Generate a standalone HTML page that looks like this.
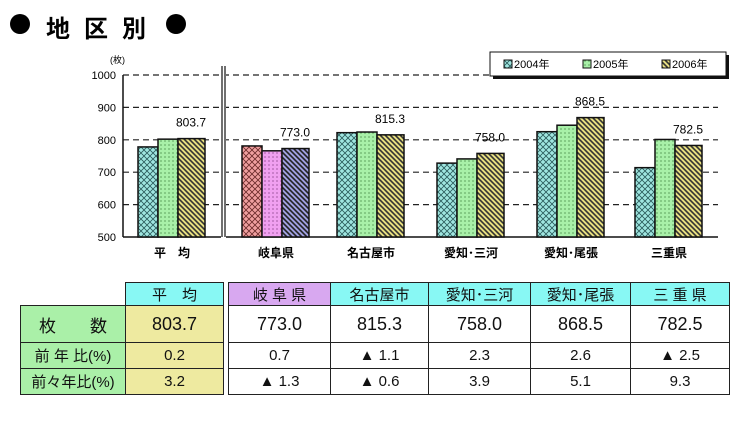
<!DOCTYPE html>
<html><head><meta charset="utf-8"><style>
body{margin:0;background:#fff;width:740px;height:422px;position:relative;overflow:hidden;font-family:"Liberation Sans","Noto Sans CJK JP",sans-serif}
.c{position:absolute;box-sizing:border-box;display:flex;align-items:center;justify-content:center;border:1px solid #222;font-size:16px;color:#111}
</style></head><body>
<svg width="740" height="422" style="position:absolute;left:0;top:0">
<defs>
<pattern id="p04" width="6" height="6" patternUnits="userSpaceOnUse"><rect width="6" height="6" fill="#9fe6e0"/><path d="M0 0L6 6M6 0L0 6" stroke="#2a5a5a" stroke-width="0.8"/></pattern>
<pattern id="p05" width="4" height="4" patternUnits="userSpaceOnUse"><rect width="4" height="4" fill="#a8f0a8"/><circle cx="1" cy="1" r="0.6" fill="#2a6a2a"/></pattern>
<pattern id="p06" width="5" height="5" patternUnits="userSpaceOnUse"><rect width="5" height="5" fill="#e8e080"/><path d="M0 0L5 5M-1 4L1 6M4 -1L6 1" stroke="#333" stroke-width="1.6"/></pattern>
<pattern id="g04" width="6" height="6" patternUnits="userSpaceOnUse"><rect width="6" height="6" fill="#f0a0a0"/><path d="M0 0L6 6M6 0L0 6" stroke="#6a2a2a" stroke-width="0.8"/></pattern>
<pattern id="g05" width="4" height="4" patternUnits="userSpaceOnUse"><rect width="4" height="4" fill="#f0a0f0"/><circle cx="1" cy="1" r="0.6" fill="#6a2a6a"/></pattern>
<pattern id="g06" width="5" height="5" patternUnits="userSpaceOnUse"><rect width="5" height="5" fill="#a0a0e0"/><path d="M0 0L5 5M-1 4L1 6M4 -1L6 1" stroke="#222" stroke-width="1.6"/></pattern>
</defs>
<circle cx="20" cy="24" r="10" fill="#000"/>
<circle cx="176" cy="24" r="10" fill="#000"/>
<g id="plot"></g>
</svg>
<div style="position:absolute;left:46px;top:9px;font-size:24px;font-weight:bold;letter-spacing:14px">地区別</div>
<div id="tbl"></div>
<script>
const categories=["平　均","岐阜県","名古屋市","愛知･三河","愛知･尾張","三重県"];
const series2004=[778,781,822,728,825,714];
const series2005=[802,766,824,741,845,801];
const series2006=[803.7,773.0,815.3,758.0,868.5,782.5];
const valueLabels=["803.7","773.0","815.3","758.0","868.5","782.5"];
const yTicks=[500,600,700,800,900,1000];
const groupStarts=[138,242,337,437,537,635];
const NS="http://www.w3.org/2000/svg";
const g=document.getElementById('plot');
const y=v=>237-(v-500)*162/500;
function el(t,a,p){const e=document.createElementNS(NS,t);for(const k in a)e.setAttribute(k,a[k]);(p||g).appendChild(e);return e;}
yTicks.forEach(t=>{
 if(t>500){const l=el('line',{x1:123,x2:718,y1:y(t),y2:y(t),stroke:'#222','stroke-dasharray':'6,4','stroke-width':1.2});
 
 }
 const tx=el('text',{x:116,y:y(t)+4,'text-anchor':'end','font-size':11});tx.textContent=t;
 
 
});
el('line',{x1:123,x2:123,y1:y(1000),y2:237,stroke:'#111','stroke-width':1.5});
el('line',{x1:123,x2:718,y1:237,y2:237,stroke:'#111','stroke-width':1.5});
el('rect',{x:221,y:66,width:5,height:172,fill:'#fff'});
el('line',{x1:222,x2:222,y1:66,y2:237,stroke:'#111','stroke-width':1.2});
el('line',{x1:225,x2:225,y1:66,y2:237,stroke:'#111','stroke-width':1.2});
const yu=el('text',{x:110,y:63,'font-size':9});yu.textContent='(枚)';
const widths=[20,20,27],offs=[0,20,40];
categories.forEach((c,i)=>{
 const x0=groupStarts[i];const vals=[series2004[i],series2005[i],series2006[i]];
 const pats=i==1?['g04','g05','g06']:['p04','p05','p06'];
 vals.forEach((v,j)=>{const r=el('rect',{x:x0+offs[j],y:y(v),width:widths[j],height:237-y(v),fill:'url(#'+pats[j]+')',stroke:'#111','stroke-width':1.5});
  
  });
 const lb=el('text',{x:x0+53,y:y(series2006[i])-12,'text-anchor':'middle','font-size':12});lb.textContent=valueLabels[i];
 
 
 const cl=el('text',{x:x0+34,y:257,'text-anchor':'middle','font-size':12,'font-weight':'bold'});cl.textContent=c;
 
 
});
el('rect',{x:493,y:55,width:236,height:24,fill:'#111'});
const lg=el('rect',{x:490,y:52,width:236,height:24,fill:'#fff',stroke:'#111'});


['p04','p05','p06'].forEach((p,j)=>{const lx=504+j*79;
 el('rect',{x:lx,y:60,width:8,height:8,fill:'url(#'+p+')',stroke:'#111'});
 const t=el('text',{x:lx+10,y:68,'font-size':11});t.textContent=(2004+j)+'年';
 
 });
const rowsY=[[282,305],[305,342],[342,368],[368,394]];
const cols=[[20,125],[125,223],[228,330],[330,428],[428,530],[530,630],[630,729]];
const head=["平　均","岐 阜 県","名古屋市","愛知･三河","愛知･尾張","三 重 県"];
const rowLabels=["枚　　数","前 年 比(%)","前々年比(%)"];
const r1=["803.7","773.0","815.3","758.0","868.5","782.5"];
const r2=["0.2","0.7","▲ 1.1","2.3","2.6","▲ 2.5"];
const r3=["3.2","▲ 1.3","▲ 0.6","3.9","5.1","9.3"];
const T=document.getElementById('tbl');
function cell(x0,x1,y0,y1,txt,bg,name,fs){const d=document.createElement('div');d.className='c';
 d.style.cssText+=`left:${x0}px;top:${y0}px;width:${x1-x0+1}px;height:${y1-y0+1}px;background:${bg};font-size:${fs||16}px`;
 d.textContent=txt;
 
 
 T.appendChild(d);}
head.forEach((h,i)=>cell(cols[i+1][0],cols[i+1][1],rowsY[0][0],rowsY[0][1],h,i==1?'#d8a8f0':'#88f8f4','table-header',15));
rowLabels.forEach((l,r)=>cell(cols[0][0],cols[0][1],rowsY[r+1][0],rowsY[r+1][1],l,'#aaf0a8','row-label',r==0?17:15));
[r1,r2,r3].forEach((row,r)=>row.forEach((v,i)=>cell(cols[i+1][0],cols[i+1][1],rowsY[r+1][0],rowsY[r+1][1],v,i==0?'#eeeaa0':'#fff','table-cell',r==0?18:15)));
</script>
</body></html>
